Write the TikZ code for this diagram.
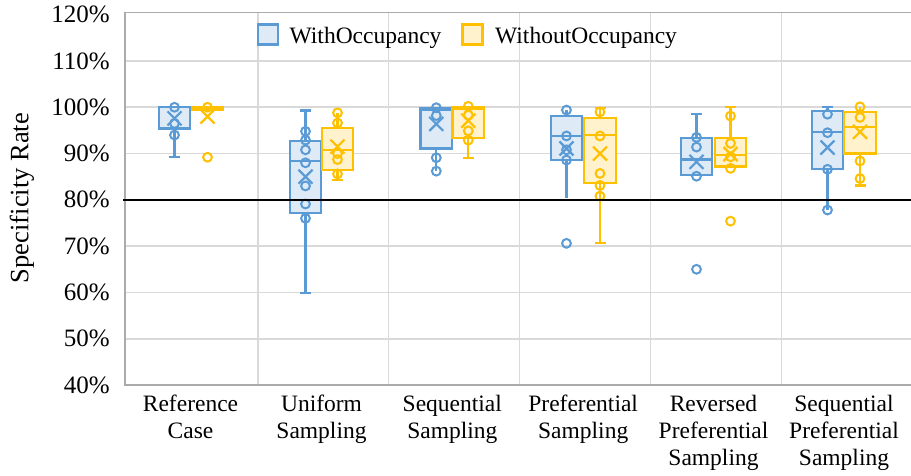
\documentclass[tikz,border=0pt]{standalone}
\usepackage{fontspec}
\setmainfont{Liberation Serif}

\definecolor{blueln}{HTML}{5B9BD5}
\definecolor{bluefl}{HTML}{DEEBF7}
\definecolor{goldln}{HTML}{FFC000}
\definecolor{goldfl}{HTML}{FFF2CC}
\definecolor{gridc}{HTML}{D9D9D9}
\definecolor{framec}{HTML}{ABABAB}

% box: centre x, colour prefix, q1, median, q3, mean
\newcommand{\bxp}[6]{%
  \draw[bxline, draw=#2ln, fill=#2fl] (#1-15.75,{yv(#3)}) rectangle (#1+15.75,{yv(#5)});
  \draw[bxline, draw=#2ln] (#1-15.75,{yv(#4)}) -- (#1+15.75,{yv(#4)});
  \draw[bxline, draw=#2ln] (#1,{yv(#6)}) ++(-7,-7) -- ++(14,14) ++(0,-14) -- ++(-14,14);
}
% whisker: centre x, colour prefix, from, to
\newcommand{\wsk}[4]{\draw[bxline, draw=#2ln] (#1,{yv(#3)}) -- (#1,{yv(#4)});}
% whisker cap: centre x, colour prefix, value
\newcommand{\wcap}[3]{\draw[bxline, draw=#2ln] (#1-5.5,{yv(#3)}) -- (#1+5.5,{yv(#3)});}
% data points: centre x, colour prefix, list of values
\newcommand{\pts}[3]{\foreach \p in {#3} {\draw[ptline, draw=#2ln] (#1,{yv(\p)}) circle[radius=4.4];}}

\begin{document}
\begin{tikzpicture}[x=1pt,y=-1pt,
  declare function={yv(\v)=385-(\v-40)*4.629;},
  bxline/.style={line width=2.2},
  ptline/.style={line width=2},
  gridln/.style={draw=gridc, line width=1.6},
  lbl/.style={font=\fontsize{23.5}{27}\selectfont, inner sep=0},
]
\useasboundingbox (0,0) rectangle (911,475);

% grid
\foreach \v in {50,60,...,110}
  \draw[gridln] (125,{yv(\v)}) -- (911,{yv(\v)});
\foreach \x in {258,388.5,519.5,650.5,781.5}
  \draw[gridln] (\x,12.5) -- (\x,385);
% plot frame
\draw[draw=framec, line width=1.8] (911,12.5) -- (125,12.5) -- (125,385) -- (911,385);

% Reference Case
\bxp{174.5}{blue}{95.4}{100}{100}{97.6}
\wsk{174.5}{blue}{95.4}{89.2}\wcap{174.5}{blue}{89.2}
\pts{174.5}{blue}{100,96.5,94.0}
\bxp{207.5}{gold}{99.5}{100}{100}{98.0}
\pts{207.5}{gold}{100,89.2}

% Uniform Sampling
\bxp{305.5}{blue}{77.1}{88.4}{92.7}{85.0}
\wsk{305.5}{blue}{77.1}{59.8}\wcap{305.5}{blue}{59.8}
\wsk{305.5}{blue}{92.7}{99.3}\wcap{305.5}{blue}{99.3}
\pts{305.5}{blue}{94.8,92.9,90.8,88.0,83.0,79.1,76.0}
\bxp{337.5}{gold}{86.5}{90.8}{95.6}{91.5}
\wsk{337.5}{gold}{86.5}{84.3}\wcap{337.5}{gold}{84.3}
\wsk{337.5}{gold}{95.6}{98.8}
\pts{337.5}{gold}{98.8,96.6,90.0,88.7,85.6}

% Sequential Sampling
\bxp{436.3}{blue}{91.1}{99.4}{99.9}{96.4}
\wsk{436.3}{blue}{91.1}{86.2}
\pts{436.3}{blue}{99.9,98.2,89.1,86.2}
\bxp{468.3}{gold}{93.4}{99.6}{100}{97.1}
\wsk{468.3}{gold}{93.4}{89.0}\wcap{468.3}{gold}{89.0}
\pts{468.3}{gold}{100.2,98.3,94.9,92.9}

% Preferential Sampling
\bxp{566.5}{blue}{88.6}{93.8}{98.1}{91.1}
\wsk{566.5}{blue}{88.6}{80.4}
\wsk{566.5}{blue}{98.1}{99.4}
\pts{566.5}{blue}{99.4,93.8,90.8,88.6,70.6}
\bxp{600}{gold}{83.7}{94.0}{97.6}{90.0}
\wsk{600}{gold}{83.7}{70.7}\wcap{600}{gold}{70.7}
\wsk{600}{gold}{97.6}{99.8}\wcap{600}{gold}{99.8}
\pts{600}{gold}{99.0,93.8,85.7,83.1,80.8}

% Reversed Preferential Sampling
\bxp{696.5}{blue}{85.4}{88.7}{93.3}{88.2}
\wsk{696.5}{blue}{93.3}{98.5}\wcap{696.5}{blue}{98.5}
\pts{696.5}{blue}{93.5,91.4,85.1,65.0}
\bxp{730.5}{gold}{87.2}{89.7}{93.3}{89.9}
\wsk{730.5}{gold}{93.3}{100.1}\wcap{730.5}{gold}{100.1}
\pts{730.5}{gold}{98.1,92.2,89.3,86.8,75.4}

% Sequential Preferential Sampling
\bxp{827.5}{blue}{86.6}{94.7}{99.2}{91.3}
\wsk{827.5}{blue}{99.2}{100}\wcap{827.5}{blue}{100}
\wsk{827.5}{blue}{86.6}{77.8}
\pts{827.5}{blue}{98.5,94.5,86.6,77.8}
\bxp{860}{gold}{90.0}{95.8}{98.9}{94.7}
\wsk{860}{gold}{98.9}{100.1}
\wsk{860}{gold}{90.0}{83.1}\wcap{860}{gold}{83.1}
\pts{860}{gold}{100.1,97.8,88.4,84.6}

% 80% threshold
\draw[black, line width=2.6] (123,{yv(80)}) -- (911,{yv(80)});

% axis tick labels
\foreach \v in {40,50,...,120}
  \node[lbl, anchor=east, font=\fontsize{25}{28}\selectfont] (t\v) at (110,{yv(\v)}) {\v\%};
\node[lbl, rotate=90, font=\fontsize{26.5}{30}\selectfont] (ylab) at (22,198) {Specificity Rate};

% category labels
\foreach \c/\t [count=\i] in {190.5/{Reference\\Case},321.5/{Uniform\\Sampling},452.3/{Sequential\\Sampling},583.2/{Preferential\\Sampling},713.5/{Reversed\\Preferential\\Sampling},844/{Sequential\\Preferential\\Sampling}}
  \node[lbl, anchor=north, align=center] (cat\i) at (\c,394.5) {\t};

% legend
\draw[bxline, draw=blueln, fill=bluefl] (258,24.5) rectangle (278,44.5);
\node[lbl, anchor=base west] (legA) at (289.5,43.3) {WithOccupancy};
\draw[bxline, draw=goldln, fill=goldfl] (462.5,24.5) rectangle (482.5,44.5);
\node[lbl, anchor=base west] (legB) at (495,43.3) {WithoutOccupancy};
\end{tikzpicture}
\end{document}
